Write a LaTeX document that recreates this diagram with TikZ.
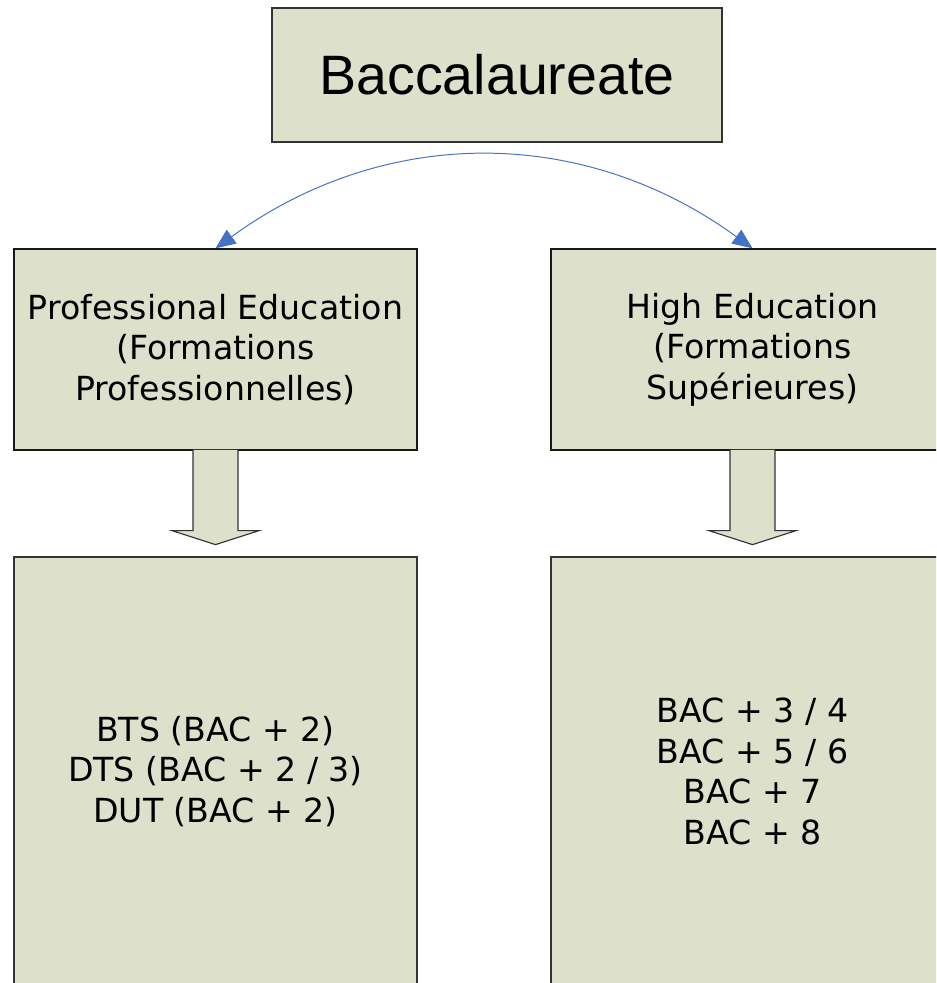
\documentclass[tikz,border=0pt]{standalone}
\usepackage{fontspec}
\setmainfont{DejaVu Sans}
\newfontfamily\arialfont{Liberation Sans}
\usetikzlibrary{arrows.meta}
\definecolor{boxfill}{RGB}{221,224,203}
\definecolor{linkblue}{RGB}{68,114,196}
\tikzstyle{tpbac} = [rectangle, minimum width=11.25cm, minimum height=3.35cm, text centered, draw=black!80, line width=0.9pt, fill=boxfill, font=\arialfont\fontsize{39.5}{44}\selectfont]
\tikzstyle{tpmid} = [rectangle, minimum width=10.075cm, minimum height=5.025cm, align=center, draw=black!90, line width=0.9pt, fill=boxfill, font=\fontsize{23.6}{28.8}\selectfont]
\tikzstyle{tpout} = [rectangle, minimum width=10.075cm, minimum height=10.725cm, align=center, draw=black!80, line width=0.9pt, fill=boxfill, font=\fontsize{23.6}{28.8}\selectfont]
\tikzstyle{fatarrow} = [fill=boxfill, draw=black!80, line width=0.8pt]
\tikzstyle{arrow} = [linkblue, line width=0.7pt, {Triangle[length=0.5cm,width=0.42cm]}-{Triangle[length=0.5cm,width=0.42cm]}]

\begin{document}
\begin{tikzpicture}[node distance=10.55cm]

%frame
\path[use as bounding box, clip] (-12.425,1.875) rectangle (10.975,-22.7);

%Boxes
\node (bac) [tpbac] {Baccalaureate};
\node (prof) [tpmid, below of=bac, xshift=-7.0375cm, yshift=3.6875cm] {Professional Education\\(Formations\\Professionnelles)};
\node (high) [tpmid, right of=prof, xshift=2.875cm] {High Education\\(Formations\\Supérieures)};
%outcomes
\node (profout) [tpout, below of=prof] {BTS (BAC + 2)\\DTS (BAC + 2 / 3)\\DUT (BAC + 2)};
\node (highout) [tpout, below of=high] {BAC + 3 / 4\\BAC + 5 / 6\\BAC + 7\\BAC + 8};

%arrows
\draw [arrow] (prof.north) to[bend left=36] (high.north);
\draw [fatarrow] ([xshift=-0.5625cm, yshift=0.02cm]prof.south) -- ++(0,-2.02) -- ++(-0.525,0) -- ++(1.0875,-0.35) -- ++(1.0875,0.35) -- ++(-0.525,0) -- ++(0,2.02);
\draw [fatarrow] ([xshift=-0.5625cm, yshift=0.02cm]high.south) -- ++(0,-2.02) -- ++(-0.525,0) -- ++(1.0875,-0.35) -- ++(1.0875,0.35) -- ++(-0.525,0) -- ++(0,2.02);

\end{tikzpicture}
\end{document}
